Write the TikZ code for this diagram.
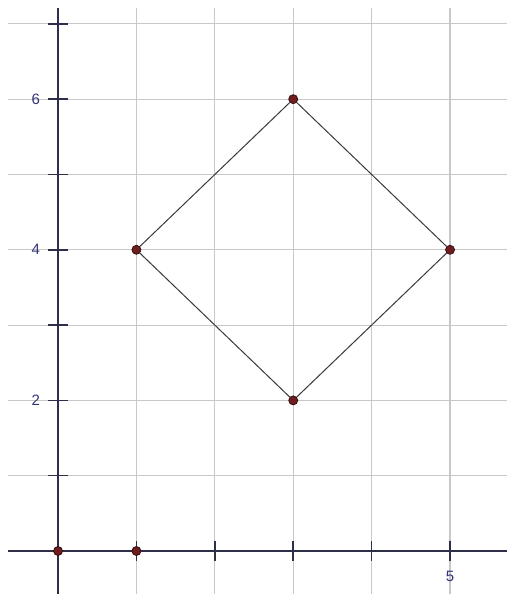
\documentclass[tikz,border=0pt]{standalone}
\usepackage{fontspec}
\setmainfont{Liberation Sans}
\definecolor{gridc}{HTML}{C8C8C8}
\definecolor{axisc}{HTML}{2E2E48}
\definecolor{labc}{HTML}{33337A}
\definecolor{ptfill}{HTML}{6E1E1E}
\definecolor{ptdraw}{HTML}{3A0E0E}
\definecolor{edgec}{HTML}{3A3A3A}
\begin{document}
\begin{tikzpicture}[x=78.4pt,y=75.3pt,
  gridline/.style={gridc,line width=1.1pt},
  axisline/.style={axisc,line width=1.8pt},
  tickmark/.style={axisc,line width=1.6pt},
  ticklabel/.style={labc,font=\fontsize{15}{15}\selectfont,inner sep=0pt},
  ptnode/.style={circle,fill=ptfill,draw=ptdraw,line width=0.8pt,minimum size=9pt,inner sep=0pt},
  edge/.style={edgec,line width=1pt}]
\useasboundingbox (-0.740,-0.571) rectangle (5.727,7.317);
\fill[white] (-0.740,-0.571) rectangle (5.727,7.317);
% grid
\foreach \y in {1,...,7} \draw[gridline] (-0.638,\y) -- (5.727,\y);
\foreach \x in {1,...,5} \draw[gridline] (\x,-0.571) -- (\x,7.211);
% axes
\draw[axisline] (-0.638,0) -- (5.727,0);
\draw[axisline] (0,-0.571) -- (0,7.211);
% ticks
\foreach \y in {1,...,7} \draw[tickmark] (-0.128,\y) -- (0.128,\y);
\foreach \x in {1,...,5} \draw[tickmark] (\x,-0.133) -- (\x,0.133);
% labels
\node[ticklabel] (l6) at (-0.285,6) {6};
\node[ticklabel] (l4) at (-0.285,4) {4};
\node[ticklabel] (l2) at (-0.285,2) {2};
\node[ticklabel] (l5) at (5,-0.34) {5};
% points
\node[ptnode] (O) at (0,0) {};
\node[ptnode] (P) at (1,0) {};
\node[ptnode] (A) at (1,4) {};
\node[ptnode] (B) at (3,6) {};
\node[ptnode] (C) at (5,4) {};
\node[ptnode] (D) at (3,2) {};
% diamond
\draw[edge] (A) -- (B);
\draw[edge] (B) -- (C);
\draw[edge] (C) -- (D);
\draw[edge] (D) -- (A);
\end{tikzpicture}
\end{document}
